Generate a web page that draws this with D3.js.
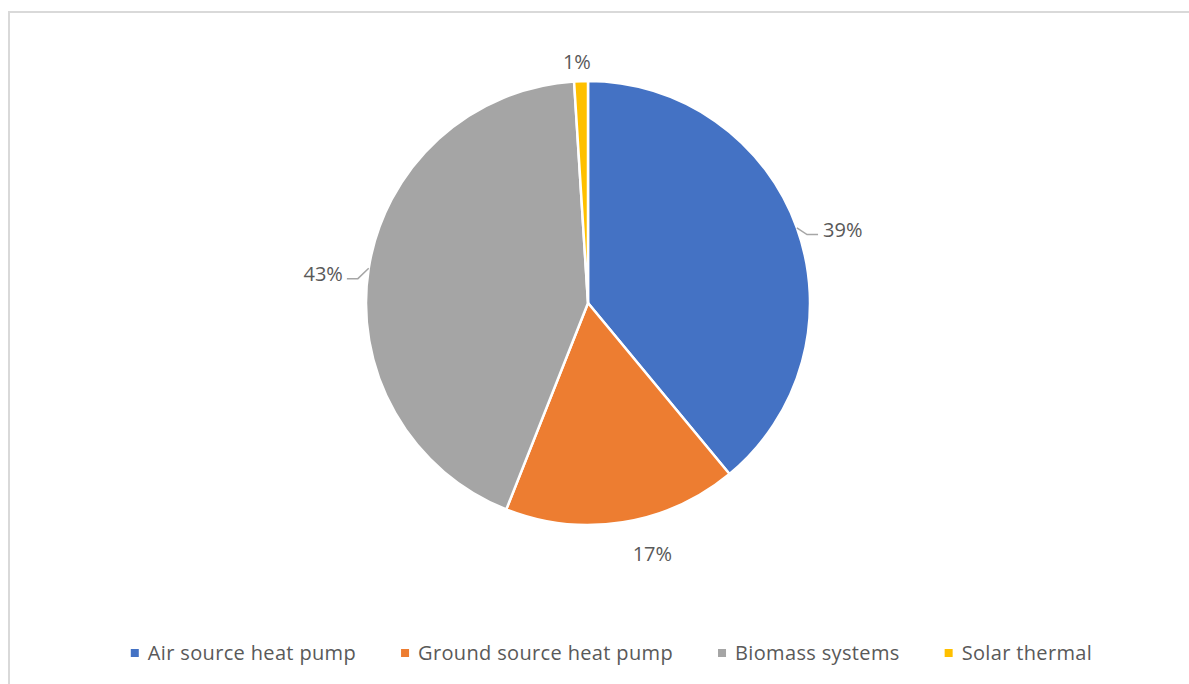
<!DOCTYPE html>
<html>
<head>
<meta charset="utf-8">
<script src="https://cdn.jsdelivr.net/npm/d3@7"></script>
<style>
  html, body { margin: 0; padding: 0; background: #fff; }
  svg { display: block; }
  text { font-family: "Open Sans", sans-serif; fill: #595959; }
</style>
</head>
<body>
<svg id="chart" width="1189" height="684"></svg>
<script>
// Renewable heating installations by technology (share of total)
const categories = ["Air source heat pump", "Ground source heat pump", "Biomass systems", "Solar thermal"];
const shares = [39, 17, 43, 1];
const labels = ["39%", "17%", "43%", "1%"];
const colors = ["#4472C4", "#ED7D31", "#A5A5A5", "#FFC000"];

// Label placement tweaks (px) relative to the outer label ring, and which labels get a leader line
const labelNudge = [[12, 14], [24, -4], [-10, 11], [-3, 17]];
const hasLeader = [true, false, true, false];

const W = 1189, H = 684;
const cx = 588, cy = 303, r = 222, labelR = 258;

const svg = d3.select("#chart");

// chart frame
svg.append("rect")
  .attr("x", 9).attr("y", 12)
  .attr("width", W + 20).attr("height", H + 20)
  .attr("fill", "none").attr("stroke", "#d9d9d9").attr("stroke-width", 2);

const data = categories.map((c, i) => ({ name: c, value: shares[i], label: labels[i], color: colors[i], i }));

const pie = d3.pie().value(d => d.value).sort(null);
const arcs = pie(data);
const arc = d3.arc().innerRadius(0).outerRadius(r);
const labelArc = d3.arc().innerRadius(labelR).outerRadius(labelR);

const g = svg.append("g").attr("transform", `translate(${cx},${cy})`);

g.selectAll("path.slice")
  .data(arcs)
  .join("path")
  .attr("class", "slice")
  .attr("d", arc)
  .attr("fill", d => d.data.color)
  .attr("stroke", "#fff")
  .attr("stroke-width", 2.5)
  .attr("stroke-linejoin", "round");

// data labels
const labelPos = arcs.map(d => {
  const [x, y] = labelArc.centroid(d);
  const n = labelNudge[d.data.i];
  return [x + n[0], y + n[1]];
});

const lbl = g.selectAll("text.lbl")
  .data(arcs)
  .join("text")
  .attr("class", "lbl")
  .attr("x", (d, i) => labelPos[i][0])
  .attr("y", (d, i) => labelPos[i][1])
  .attr("dy", "0.36em")
  .attr("text-anchor", "middle")
  .style("font-size", "20px")
  .text(d => d.data.label);

// leader lines from slice edge to label
lbl.each(function (d, i) {
  if (!hasLeader[d.data.i]) return;
  const w = this.getComputedTextLength();
  const mid = (d.startAngle + d.endAngle) / 2;
  const sx = r * Math.sin(mid), sy = -r * Math.cos(mid);
  const right = sx > 0;
  const [lx, ly] = labelPos[i];
  const ex = right ? lx - w / 2 - 5 : lx + w / 2 + 4;
  const ey = ly + 5;
  const kx = right ? ex - 11 : ex + 11;
  g.append("path")
    .attr("d", d3.line()([[sx, sy], [kx, ey], [ex, ey]]))
    .attr("fill", "none")
    .attr("stroke", "#a6a6a6")
    .attr("stroke-width", 1.5);
});

// legend
const legend = svg.append("g");
const items = legend.selectAll("g.item")
  .data(data)
  .join("g")
  .attr("class", "item");

items.append("rect")
  .attr("width", 8).attr("height", 8)
  .attr("y", 649)
  .attr("fill", d => d.color);

items.append("text")
  .attr("x", 17)
  .attr("y", 653)
  .attr("dy", "0.36em")
  .style("font-size", "20px")
  .style("letter-spacing", "0.35px")
  .text(d => d.name);

const gap = 45;
const widths = [];
items.select("text").each(function () { widths.push(17 + this.getComputedTextLength()); });
const total = d3.sum(widths) + gap * (widths.length - 1);
let x0 = 611.5 - total / 2;
items.attr("transform", (d, i) => {
  const t = `translate(${x0},0)`;
  x0 += widths[i] + gap;
  return t;
});
</script>
</body>
</html>
